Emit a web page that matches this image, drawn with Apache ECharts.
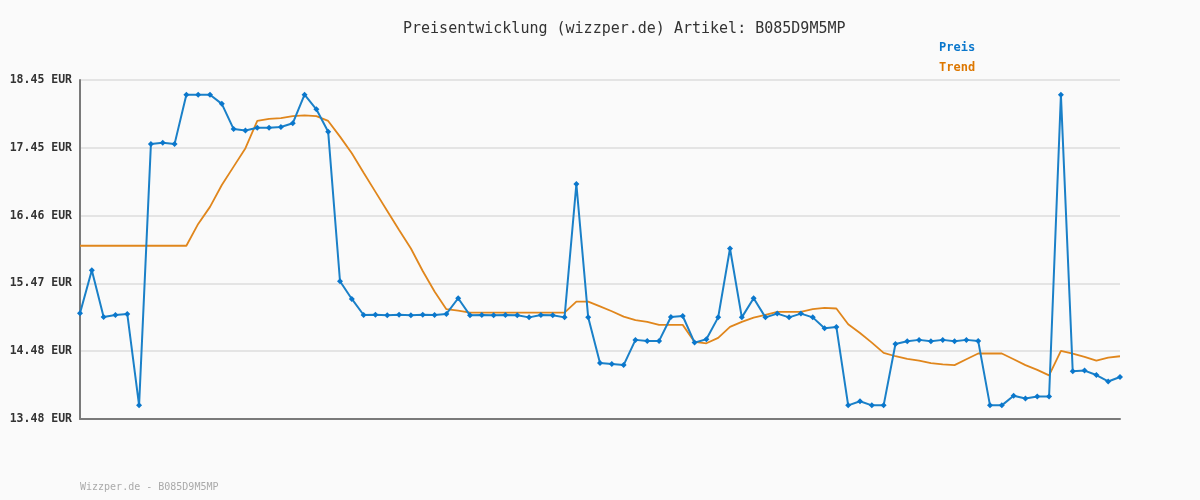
<!DOCTYPE html>
<html>
<head>
<meta charset="utf-8">
<script src="https://cdn.jsdelivr.net/npm/echarts@6/dist/echarts.min.js"></script>
<style>
html,body{margin:0;padding:0;background:#fafafa;}
#chart{width:1200px;height:500px;}
</style>
</head>
<body>
<div id="chart"></div>
<script>
var titleText = 'Preisentwicklung (wizzper.de) Artikel: B085D9M5MP';
var footerText = 'Wizzper.de - B085D9M5MP';
var seriesNames = ['Preis', 'Trend'];
var tickLabels = ['13.48 EUR', '14.48 EUR', '15.47 EUR', '16.46 EUR', '17.45 EUR', '18.45 EUR'];
var yMin = 13.48;
var yMax = 18.45;

var preis = [
  15.03, 15.66, 14.975, 15.005, 15.02, 13.68, 17.51, 17.53, 17.51, 18.235,
  18.235, 18.235, 18.10, 17.73, 17.71, 17.75, 17.75, 17.76, 17.815, 18.235,
  18.02, 17.69, 15.50, 15.24, 15.005, 15.01, 15.0, 15.01, 15.0, 15.01,
  15.005, 15.02, 15.25, 15.0, 15.005, 15.0, 15.005, 15.0, 14.97, 15.005,
  15.0, 14.97, 16.925, 14.97, 14.30, 14.286, 14.27, 14.64, 14.625, 14.625,
  14.975, 14.99, 14.60, 14.65, 14.97, 15.98, 14.97, 15.25, 14.97, 15.025,
  14.97, 15.025, 14.97, 14.81, 14.83, 13.68, 13.74, 13.68, 13.68, 14.58,
  14.62, 14.64, 14.62, 14.64, 14.62, 14.64, 14.625, 13.68, 13.68, 13.82,
  13.78, 13.81, 13.81, 18.235, 14.18, 14.19, 14.125, 14.03, 14.095
];

var trend = [
  16.02, 16.02, 16.02, 16.02, 16.02, 16.02, 16.02, 16.02, 16.02, 16.02,
  16.34, 16.59, 16.91, 17.18, 17.45, 17.85, 17.88, 17.89, 17.92, 17.93,
  17.92, 17.85, 17.62, 17.375, 17.09, 16.81, 16.53, 16.25, 15.98, 15.65,
  15.35, 15.09, 15.07, 15.04, 15.04, 15.04, 15.04, 15.04, 15.04, 15.04,
  15.04, 15.04, 15.20, 15.20, 15.13, 15.06, 14.98, 14.93, 14.905, 14.86,
  14.86, 14.86, 14.61, 14.59, 14.67, 14.83, 14.905, 14.965, 15.005, 15.05,
  15.05, 15.05, 15.09, 15.11, 15.10, 14.87, 14.74, 14.60, 14.45, 14.40,
  14.36, 14.335, 14.30, 14.28, 14.27, 14.355, 14.44, 14.44, 14.44, 14.355,
  14.27, 14.20, 14.12, 14.48, 14.44, 14.39, 14.335, 14.38, 14.40
];

var categories = preis.map(function (v, i) { return String(i + 1); });
var yInterval = (yMax - yMin) / (tickLabels.length - 1);
var mono = '"DejaVu Sans Mono", "Liberation Mono", monospace';

var chart = echarts.init(document.getElementById('chart'), null, {renderer: 'canvas'});
chart.setOption({
  backgroundColor: '#fafafa',
  animation: false,
  title: {
    text: titleText,
    left: 398,
    top: 17,
    textStyle: {fontFamily: mono, fontSize: 15, fontWeight: 'normal', color: '#333333'}
  },
  legend: {
    orient: 'vertical',
    left: 934,
    top: 37,
    icon: 'none',
    itemWidth: 0,
    itemHeight: 10,
    itemGap: 8,
    selectedMode: false,
    data: [
      {name: seriesNames[0], textStyle: {color: '#0a77cc'}},
      {name: seriesNames[1], textStyle: {color: '#dd7700'}}
    ],
    textStyle: {fontFamily: mono, fontSize: 12, fontWeight: 'bold', padding: [0, 0, 0, -5]}
  },
  grid: {left: 80, right: 80, top: 80, bottom: 81, containLabel: false},
  xAxis: {
    type: 'category',
    data: categories,
    boundaryGap: false,
    axisLine: {show: true, lineStyle: {color: '#7a7a7a', width: 2}},
    axisTick: {show: false},
    axisLabel: {show: false},
    splitLine: {show: false}
  },
  yAxis: {
    type: 'value',
    min: yMin,
    max: yMax,
    interval: yInterval,
    axisLine: {show: true, lineStyle: {color: '#7a7a7a', width: 2}},
    axisTick: {show: false},
    axisLabel: {
      margin: 8,
      fontFamily: mono,
      fontSize: 11.5,
      fontWeight: 'bold',
      color: '#333333',
      formatter: function (v) {
        var idx = Math.round((v - yMin) / yInterval);
        return tickLabels[idx] || '';
      }
    },
    splitLine: {show: true, lineStyle: {color: '#e4e4e4', width: 2}}
  },
  graphic: [{
    type: 'text',
    left: 80,
    top: 482,
    style: {text: footerText, fill: '#aaaaaa', font: '10px ' + mono}
  }],
  series: [
    {
      name: seriesNames[1],
      type: 'line',
      data: trend,
      symbol: 'none',
      z: 2,
      lineStyle: {color: '#e0861c', width: 1.8},
      itemStyle: {color: '#dd7700'}
    },
    {
      name: seriesNames[0],
      type: 'line',
      data: preis,
      symbol: 'diamond',
      symbolSize: 6,
      showAllSymbol: true,
      z: 3,
      lineStyle: {color: '#1a80c8', width: 2},
      itemStyle: {color: '#0a77cc'}
    }
  ]
});
</script>
</body>
</html>
